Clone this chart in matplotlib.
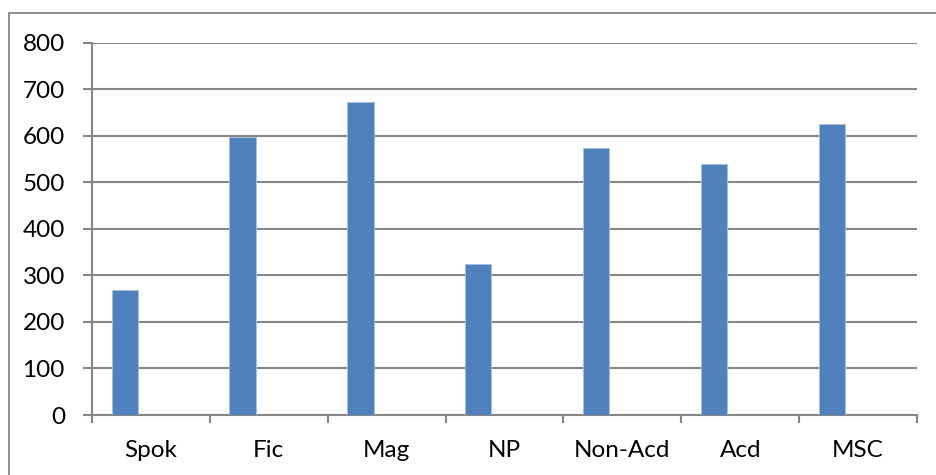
import numpy as np
import matplotlib.pyplot as plt
from matplotlib.patches import Rectangle

categories = ['Spok', 'Fic', 'Mag', 'NP', 'Non-Acd', 'Acd', 'MSC']
values = [269, 598, 673, 324, 574, 538, 624]
yticks = [0, 100, 200, 300, 400, 500, 600, 700, 800]

plt.rcParams['font.family'] = ['Lato', 'DejaVu Sans']
grey = '#868686'
blue = '#4F81BD'

fig = plt.figure(figsize=(9.37, 4.75), dpi=100)
ax = fig.add_axes([92 / 937, 1 - 415 / 475, 825 / 937, 372.5 / 475])

# chart border (runs past the right and bottom edges)
fig.patches.append(Rectangle((9.5 / 937, -0.05), 1.1, 1 - 13 / 475 + 0.05,
                             transform=fig.transFigure, fill=False,
                             edgecolor=grey, linewidth=1.3, zorder=0))

x = np.arange(len(categories))
# first series of a three-wide cluster, gap width 50%
ax.bar(x - 2 / 9, values, width=2 / 9, color=blue, edgecolor='#A7C0DE',
       linewidth=0.6, zorder=3)

ax.set_xlim(-0.5, len(categories) - 0.5)
ax.set_ylim(0, 800)
ax.set_yticks(yticks)
ax.set_xticks(x)
ax.set_xticklabels(categories)
ax.set_xticks(np.arange(len(categories) + 1) - 0.5, minor=True)

ax.yaxis.grid(True, color=grey, linewidth=1.5, zorder=1)
for side in ('top', 'right'):
    ax.spines[side].set_visible(False)
for side in ('left', 'bottom'):
    ax.spines[side].set_color(grey)
    ax.spines[side].set_linewidth(1.5)

ax.tick_params(axis='y', length=6.5, width=1.5, color=grey, pad=13,
               labelsize=17.5, labelcolor='black')
ax.tick_params(axis='x', which='major', length=0, pad=18, labelsize=17.5,
               labelcolor='black')
ax.tick_params(axis='x', which='minor', length=6, width=1.5, color=grey)

fig.savefig('out.png', dpi=100)
